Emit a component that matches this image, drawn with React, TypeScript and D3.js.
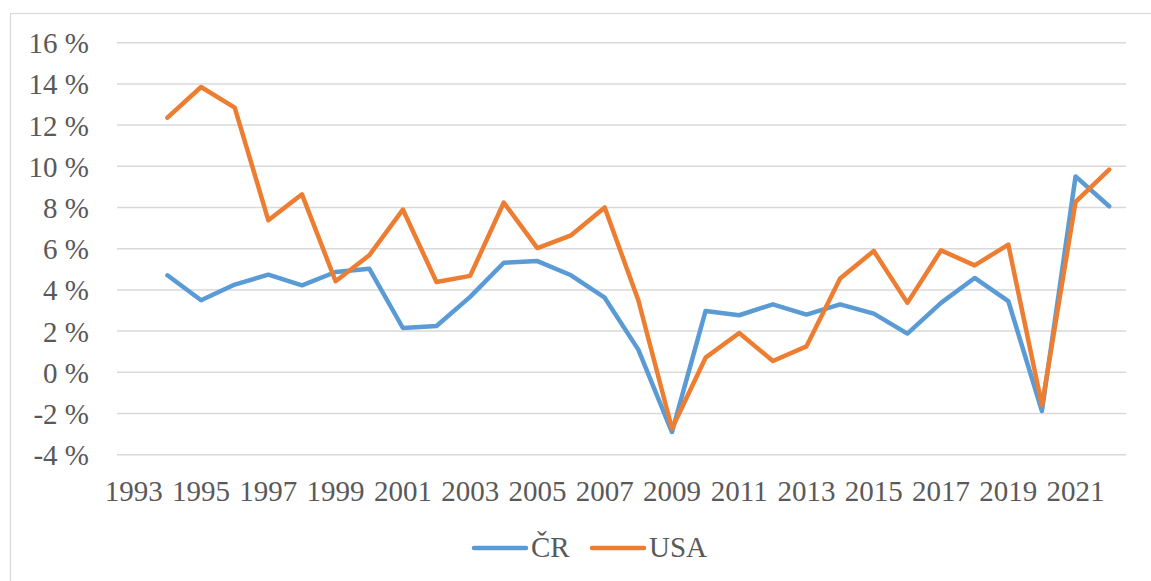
import { useEffect, useRef } from "react";
import * as d3 from "d3";

// categories 1993–2022; 1993 has no value in either series
const years = d3.range(1993, 2023).map(String);

const crValues = [
  null, 4.71, 3.5, 4.26, 4.74, 4.22, 4.87, 5.03, 2.15, 2.25, 3.66, 5.32, 5.4, 4.71, 3.62,
  1.1, -2.9, 2.98, 2.77, 3.3, 2.8, 3.3, 2.85, 1.88, 3.37, 4.58, 3.46, -1.88, 9.51, 8.06,
];

const usaValues = [
  null, 12.36, 13.85, 12.85, 7.38, 8.64, 4.42, 5.68, 7.9, 4.38, 4.68, 8.24, 6.03, 6.65, 8.0,
  3.5, -2.73, 0.71, 1.91, 0.55, 1.26, 4.55, 5.89, 3.37, 5.92, 5.19, 6.2, -1.6, 8.27, 9.84,
];

const yTicks = [-4, -2, 0, 2, 4, 6, 8, 10, 12, 14, 16];
const xTickLabels = years.filter((_, i) => i % 2 === 0);

const seriesNames = ["ČR", "USA"];
const seriesColors = ["#5B9BD5", "#ED7D31"];

export default function App() {
  const ref = useRef<SVGSVGElement>(null);
  const width = 1151;
  const height = 581;

  useEffect(() => {
    const svg = d3.select(ref.current);
    svg.selectAll("*").remove();

    const font = "'Liberation Serif', 'Times New Roman', serif";
    const textColor = "#595959";

    svg.append("rect")
      .attr("width", width)
      .attr("height", height)
      .attr("fill", "#fff");

    // chart frame (only top & left visible in crop)
    svg.append("rect")
      .attr("x", 10.5)
      .attr("y", 13.5)
      .attr("width", width + 20)
      .attr("height", height + 20)
      .attr("fill", "none")
      .attr("stroke", "#d9d9d9")
      .attr("stroke-width", 1.2);

    const x = d3.scaleBand<string>()
      .domain(years)
      .range([117, 1126])
      .padding(0);
    const cx = (d: string) => (x(d) as number) + x.bandwidth() / 2;

    const y = d3.scaleLinear().domain([-4, 16]).range([454.7, 42.7]);

    // gridlines
    svg.append("g")
      .selectAll("line")
      .data(yTicks)
      .enter().append("line")
      .attr("x1", 117)
      .attr("x2", 1126)
      .attr("y1", d => y(d))
      .attr("y2", d => y(d))
      .attr("stroke", "#d9d9d9")
      .attr("stroke-width", 1.5);

    // y labels
    svg.append("g")
      .selectAll("text")
      .data(yTicks)
      .enter().append("text")
      .attr("x", 89)
      .attr("y", d => y(d) + 10.5)
      .attr("text-anchor", "end")
      .attr("fill", textColor)
      .style("font-family", font)
      .style("font-size", "29px")
      .text(d => `${d} %`);

    // x labels
    svg.append("g")
      .selectAll("text")
      .data(xTickLabels)
      .enter().append("text")
      .attr("x", d => cx(d))
      .attr("y", 501)
      .attr("text-anchor", "middle")
      .attr("fill", textColor)
      .style("font-family", font)
      .style("font-size", "29px")
      .text(d => d);

    const line = d3.line<number | null>()
      .defined(d => d !== null)
      .x((_, i) => cx(years[i]))
      .y(d => y(d as number));

    [crValues, usaValues].forEach((vals, i) => {
      svg.append("path")
        .datum(vals)
        .attr("d", line)
        .attr("fill", "none")
        .attr("stroke", seriesColors[i])
        .attr("stroke-width", 4.5)
        .attr("stroke-linejoin", "round")
        .attr("stroke-linecap", "round");
    });

    // legend
    const legendItems = [
      { x1: 474, x2: 526, tx: 531 },
      { x1: 592, x2: 644, tx: 649 },
    ];
    legendItems.forEach((item, i) => {
      svg.append("line")
        .attr("x1", item.x1)
        .attr("x2", item.x2)
        .attr("y1", 548)
        .attr("y2", 548)
        .attr("stroke", seriesColors[i])
        .attr("stroke-width", 4.5)
        .attr("stroke-linecap", "round");
      svg.append("text")
        .attr("x", item.tx)
        .attr("y", 557)
        .attr("fill", textColor)
        .style("font-family", font)
        .style("font-size", "29px")
        .text(seriesNames[i]);
    });
  }, []);

  return (
    <svg
      ref={ref}
      width={width}
      height={height}
      style={{ position: "absolute", left: 0, top: 0, display: "block" }}
    />
  );
}
